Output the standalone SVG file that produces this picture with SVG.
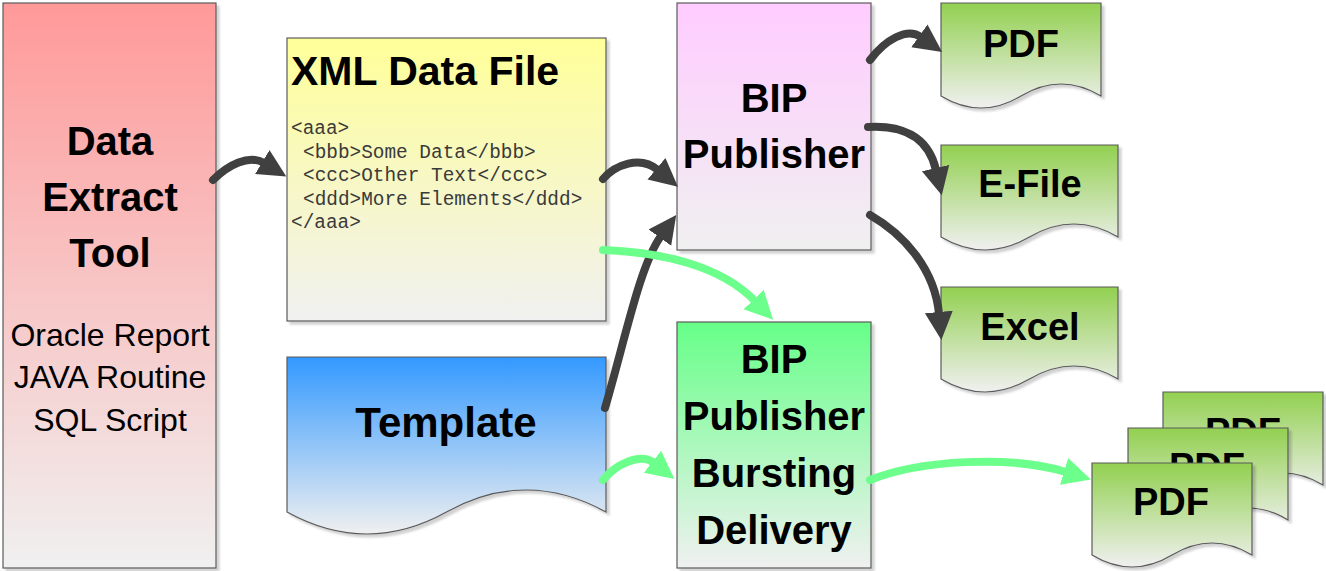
<svg xmlns="http://www.w3.org/2000/svg" width="1326" height="571" viewBox="0 0 1326 571">
<style>
.box{stroke:#5a5a5a;stroke-width:1.2;filter:url(#sh)}
.t{font-family:"Liberation Sans",Arial,sans-serif;font-weight:bold;fill:#000;text-anchor:middle}
.s{font-family:"Liberation Sans",Arial,sans-serif;fill:#000;text-anchor:middle;font-size:32px}
.code{font-family:"Liberation Mono","Courier New",monospace;fill:#3a3a3a;font-size:19.4px}
.dk{fill:none;stroke:#404040;stroke-width:8;stroke-linecap:round}
.gr{fill:none;stroke:#6cff8c;stroke-width:8;stroke-linecap:round}
</style>
<defs>
<filter id="sh" x="-5%" y="-5%" width="115%" height="115%"><feDropShadow dx="3" dy="3" stdDeviation="1.2" flood-color="#000" flood-opacity="0.18"/></filter>
<linearGradient id="gRed" x1="0" y1="0" x2="0" y2="1"><stop offset="0" stop-color="#ff9999"/><stop offset="1" stop-color="#f0f0f0"/></linearGradient>
<linearGradient id="gYel" x1="0" y1="0" x2="0" y2="1"><stop offset="0" stop-color="#ffff99"/><stop offset="1" stop-color="#f0f0f0"/></linearGradient>
<linearGradient id="gBlue" x1="0" y1="0" x2="0" y2="1"><stop offset="0" stop-color="#3399ff"/><stop offset="1" stop-color="#f0f0f0"/></linearGradient>
<linearGradient id="gPink" x1="0" y1="0" x2="0" y2="1"><stop offset="0" stop-color="#ffccff"/><stop offset="1" stop-color="#f0f0f0"/></linearGradient>
<linearGradient id="gMint" x1="0" y1="0" x2="0" y2="1"><stop offset="0" stop-color="#66ff88"/><stop offset="1" stop-color="#f0f0f0"/></linearGradient>
<linearGradient id="gLeaf" x1="0" y1="0" x2="0" y2="1"><stop offset="0" stop-color="#92d050"/><stop offset="1" stop-color="#f0f0f0"/></linearGradient>
<marker id="aDk" markerUnits="userSpaceOnUse" markerWidth="32" markerHeight="32" viewBox="0 -15 32 30" refX="2" refY="0" orient="auto"><path d="M0,-14 L28,0 L0,14 Z" fill="#404040"/></marker>
<marker id="aGr" markerUnits="userSpaceOnUse" markerWidth="32" markerHeight="32" viewBox="0 -15 32 30" refX="2" refY="0" orient="auto"><path d="M0,-14 L28,0 L0,14 Z" fill="#6cff8c"/></marker>
</defs>

<g id="n-extract">
<rect class="box" x="3" y="3" width="213" height="565" fill="url(#gRed)"/>
<text class="t" font-size="40" x="110" y="155">Data</text>
<text class="t" font-size="40" x="110" y="211">Extract</text>
<text class="t" font-size="40" x="110" y="267">Tool</text>
<text class="s" x="110" y="346">Oracle Report</text>
<text class="s" x="110" y="388">JAVA Routine</text>
<text class="s" x="110" y="431">SQL Script</text>
</g>

<g id="n-xml">
<rect class="box" x="287" y="38" width="319" height="283" fill="url(#gYel)"/>
<text class="t" font-size="41" x="291" y="85" style="text-anchor:start">XML Data File</text>
<text class="code" x="291" y="134">&lt;aaa&gt;</text>
<text class="code" x="303" y="158">&lt;bbb&gt;Some Data&lt;/bbb&gt;</text>
<text class="code" x="303" y="181">&lt;ccc&gt;Other Text&lt;/ccc&gt;</text>
<text class="code" x="303" y="205">&lt;ddd&gt;More Elements&lt;/ddd&gt;</text>
<text class="code" x="291" y="228">&lt;/aaa&gt;</text>
</g>

<g id="n-template">
<path class="box" d="M287,357 H606 V512 Q526,468 446.5,512 T287,512 Z" fill="url(#gBlue)"/>
<text class="t" font-size="42" x="446" y="437">Template</text>
</g>

<g id="n-bip">
<rect class="box" x="677" y="3" width="194" height="247" fill="url(#gPink)"/>
<text class="t" font-size="40" x="774" y="112">BIP</text>
<text class="t" font-size="40" x="774" y="168">Publisher</text>
</g>

<g id="n-burst">
<rect class="box" x="677" y="322" width="194" height="246" fill="url(#gMint)"/>
<text class="t" font-size="40" x="774" y="373">BIP</text>
<text class="t" font-size="40" x="774" y="430">Publisher</text>
<text class="t" font-size="40" x="774" y="487">Bursting</text>
<text class="t" font-size="40" x="774" y="544">Delivery</text>
</g>

<g id="n-pdf">
<path class="box" d="M941,3 H1101 V96 Q1061,72 1021,96 T941,96 Z" fill="url(#gLeaf)"/>
<text class="t" font-size="38" x="1021" y="57">PDF</text>
</g>

<g id="n-efile">
<path class="box" d="M941,145 H1118 V237 Q1074,211 1029.5,237 T941,237 Z" fill="url(#gLeaf)"/>
<text class="t" font-size="38" x="1030" y="197">E-File</text>
</g>

<g id="n-excel">
<path class="box" d="M941,287 H1118 V379 Q1074,353 1029.5,379 T941,379 Z" fill="url(#gLeaf)"/>
<text class="t" font-size="38" x="1030" y="340">Excel</text>
</g>

<g id="n-pdf-stack">
<path class="box" d="M1163,392 H1323 V485 Q1283,461 1243,485 T1163,485 Z" fill="url(#gLeaf)"/>
<text class="t" font-size="38" x="1243" y="445">PDF</text>
<path class="box" d="M1128,428 H1288 V520 Q1248,496 1208,520 T1128,520 Z" fill="url(#gLeaf)"/>
<text class="t" font-size="38" x="1207" y="480">PDF</text>
<path class="box" d="M1092,463 H1252 V555 Q1212,531 1172,555 T1092,555 Z" fill="url(#gLeaf)"/>
<text class="t" font-size="38" x="1171" y="515">PDF</text>
</g>

<g id="connectors">
<path class="dk" marker-end="url(#aDk)" d="M213,180 C228,165 249,154 264,163"/>
<path class="dk" marker-end="url(#aDk)" d="M603,179 C615,165 640,155 658,170"/>
<path class="dk" marker-end="url(#aDk)" d="M605,408 C626,336 640,265 661,236"/>
<path class="dk" marker-end="url(#aDk)" d="M870,60 C885,40 907,27 921,37"/>
<path class="dk" marker-end="url(#aDk)" d="M868,127 C900,125 928,135 936,170"/>
<path class="dk" marker-end="url(#aDk)" d="M870,215 C905,235 935,270 939,314"/>
<path class="gr" marker-end="url(#aGr)" d="M603,250 C660,252 720,265 755,301"/>
<path class="gr" marker-end="url(#aGr)" d="M603,480 C615,465 640,452 654,463"/>
<path class="gr" marker-end="url(#aGr)" d="M870,480 C920,460 1010,455 1066,472"/>
</g>
</svg>
